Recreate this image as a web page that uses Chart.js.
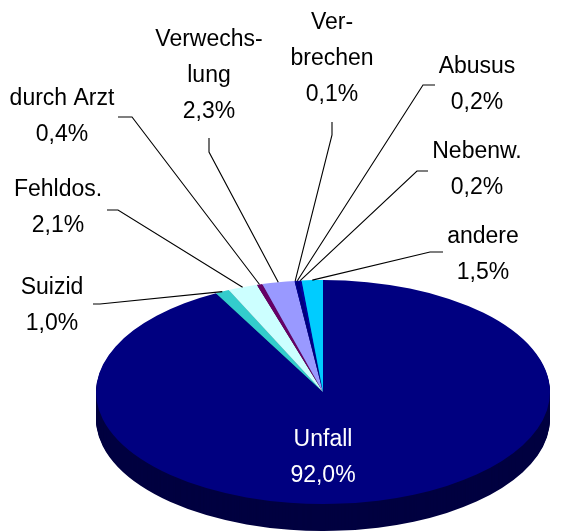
<!DOCTYPE html>
<html>
<head>
<meta charset="utf-8">
<script src="https://cdn.jsdelivr.net/npm/chart.js@4/dist/chart.umd.min.js"></script>
<style>html,body{margin:0;padding:0;background:#fff}</style>
</head>
<body>
<canvas id="pie" width="565" height="531"></canvas>
<script>
// data
const categories = ['Unfall','Suizid','Fehldos.','durch Arzt','Verwechslung','Verbrechen','Abusus','Nebenw.','andere'];
const labelLines = [['Unfall'],['Suizid'],['Fehldos.'],['durch Arzt'],['Verwechs-','lung'],['Ver-','brechen'],['Abusus'],['Nebenw.'],['andere']];
const shares = [92.0, 1.0, 2.1, 0.4, 2.3, 0.1, 0.2, 0.2, 1.5];
const colors = ['#000080','#33CCCC','#CCFFFF','#660066','#9999FF','#000099','#000080','#0000A0','#00CCFF'];

// label layout: text centre of first line, leader start and elbow
const labelPos = [
	{x:323, y:440, lead:null},
	{x:52,  y:288, lead:[[93,304],[100,304]]},
	{x:58,  y:190, lead:[[107,210],[118,210]]},
	{x:62,  y:99,  lead:[[118,117],[132,117]]},
	{x:209, y:40,  lead:[[209,138],[209,152]]},
	{x:332, y:23,  lead:[[332,122],[332,135]]},
	{x:477, y:67,  lead:[[435,85],[423,85]]},
	{x:477, y:152, lead:[[428,171],[417,171]]},
	{x:483, y:237, lead:[[443,252],[430,252]]}
];

const FLAT = 112/227, CY = 392, DEPTH = 27, LINE_H = 36;

function shade(hex, f){
	const n = parseInt(hex.slice(1),16);
	const r = Math.round((n>>16&255)*f), g = Math.round((n>>8&255)*f), b = Math.round((n&255)*f);
	return `rgb(${r},${g},${b})`;
}
function flatten(ctx, cy){ ctx.translate(0, CY); ctx.scale(1, FLAT); ctx.translate(0, -cy); }

const pie3d = {
	id:'pie3d',
	beforeDatasetsDraw(chart){
		const ctx = chart.ctx, arcs = chart.getDatasetMeta(0).data;
		ctx.save();
		flatten(ctx, arcs[0].y);
		// side walls
		for(let s=DEPTH; s>0; s--){
			ctx.save();
			ctx.translate(0, s/FLAT);
			arcs.forEach((arc,i)=>{
				const ghost = Object.create(arc);
				ghost.options = Object.assign({}, arc.options, {backgroundColor: shade(colors[i], 0.5)});
				ghost.draw(ctx);
			});
			ctx.restore();
		}
	},
	afterDatasetsDraw(chart){
		chart.ctx.restore();
	},
	afterDraw(chart){
		const ctx = chart.ctx, arcs = chart.getDatasetMeta(0).data;
		ctx.save();
		ctx.font = '23px "Liberation Sans", Arial, sans-serif';
		ctx.textAlign = 'center'; ctx.textBaseline = 'middle';
		ctx.strokeStyle = '#000'; ctx.lineWidth = 1.1;
		arcs.forEach((arc,i)=>{
			const p = labelPos[i];
			const lines = labelLines[i].concat([shares[i].toFixed(1).replace('.',',')+'%']);
			ctx.fillStyle = i===0 ? '#fff' : '#000';
			lines.forEach((t,j)=>ctx.fillText(t, p.x, p.y + j*LINE_H));
			if(p.lead){
				const a = (arc.startAngle + arc.endAngle)/2;
				const ex = arc.x + arc.outerRadius*Math.cos(a);
				const ey = CY + FLAT*arc.outerRadius*Math.sin(a);
				ctx.beginPath();
				ctx.moveTo(p.lead[0][0], p.lead[0][1]);
				ctx.lineTo(p.lead[1][0], p.lead[1][1]);
				ctx.lineTo(ex, ey);
				ctx.stroke();
			}
		});
		ctx.restore();
	}
};

new Chart(document.getElementById('pie'), {
	type:'pie',
	data:{ labels:categories, datasets:[{ data:shares, backgroundColor:colors, borderWidth:0, clip:false }] },
	options:{
		responsive:false, animation:false,
		layout:{ padding:{ left:96, right:15, top:0, bottom:77 } },
		plugins:{ legend:{display:false}, tooltip:{enabled:false} }
	},
	plugins:[pie3d]
});
</script>
</body>
</html>
